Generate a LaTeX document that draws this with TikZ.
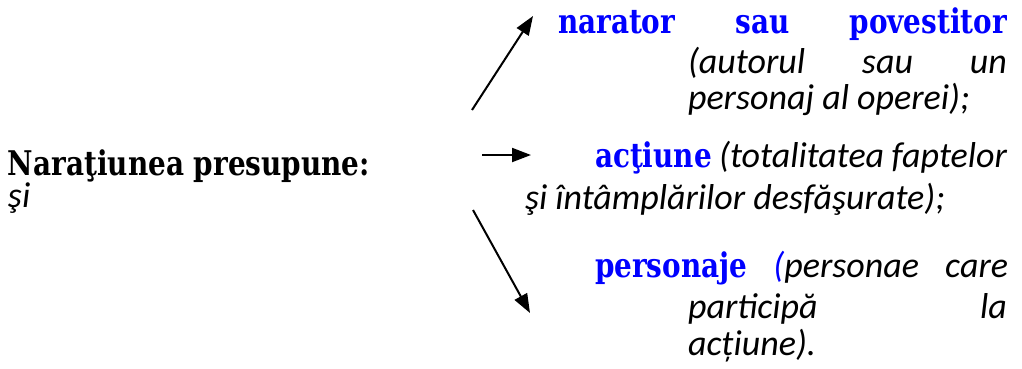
\documentclass[tikz,border=0pt]{standalone}
\usepackage{fontspec}
\setmainfont{Liberation Serif}
\newfontfamily\carlitofam{Carlito}
\newfontfamily\slabfam{DejaVu Serif}[FakeStretch=0.82]
\usetikzlibrary{arrows.meta}
\newcommand\myB[1]{{\slabfam\fontsize{34}{40}\selectfont\bfseries\color{blue}#1}}
\newcommand\myK[1]{{\slabfam\fontsize{34}{40}\selectfont\bfseries #1}}
\newcommand\myI[1]{{\carlitofam\fontsize{36}{40}\selectfont\itshape #1}}
\begin{document}
\begin{tikzpicture}[x=1pt,y=-1pt,
  txt/.style={anchor=base west,inner sep=0pt,outer sep=0pt},
  arr/.style={line width=2pt,-{Triangle[length=19pt,width=14pt]}}]
\useasboundingbox (0,0) rectangle (1022,368);
% left
\node[txt] (lt1) at (8,175) {\myK{Naraţiunea presupune:}};
\node[txt] (lt2) at (8,207) {\myI{şi}};
% first block
\node[txt] (n1) at (558,33) {\makebox[449pt]{\myB{narator}\hfill\myB{sau}\hfill\myB{povestitor}}};
\node[txt] (n2) at (688,73) {\makebox[319pt]{\myI{(autorul}\hfill\myI{sau}\hfill\myI{un}}};
\node[txt] (n3) at (688,109) {\myI{personaj al operei);}};
% second block
\node[txt] (c1) at (595,167) {\makebox[412pt]{\myB{acţiune}\hfill\myI{(totalitatea}\hfill\myI{faptelor}}};
\node[txt] (c2) at (525,209) {\myI{şi întâmplărilor desfăşurate);}};
% third block
\node[txt] (p1) at (595,277) {\makebox[413pt]{\myB{personaje}\hfill\myI{\color{blue}(}\myI{personae}\hfill\myI{care}}};
\node[txt] (p2) at (688,318) {\makebox[319pt]{\myI{participă}\hfill\myI{la}}};
\node[txt] (p3) at (688,355) {\myI{acțiune).}};
% arrows
\coordinate (a1s) at (472,110);
\coordinate (a1e) at (533,16);
\coordinate (a2s) at (482,155);
\coordinate (a2e) at (531,155);
\coordinate (a3s) at (473,210);
\coordinate (a3e) at (530,313);
\draw[arr] (a1s) -- (a1e);
\draw[arr] (a2s) -- (a2e);
\draw[arr] (a3s) -- (a3e);
\end{tikzpicture}
\end{document}
